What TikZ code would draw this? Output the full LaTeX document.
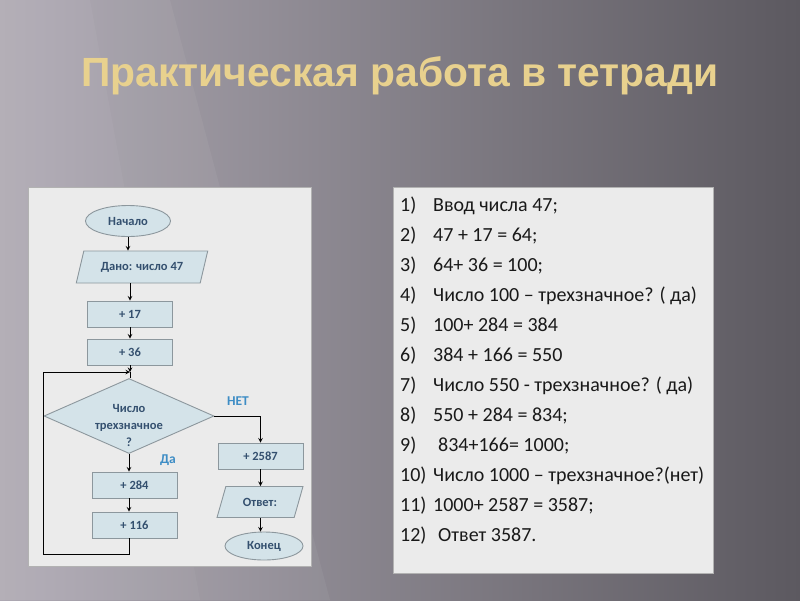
\documentclass[tikz,border=0pt]{standalone}
\usepackage{fontspec}
\setmainfont{Carlito}
\newfontfamily\titlefont{Liberation Sans}
\usetikzlibrary{shapes.geometric, arrows, positioning, calc}

\definecolor{titlegold}{HTML}{E8D18E}
\definecolor{panelgray}{HTML}{EBEBEB}
\definecolor{shapefill}{HTML}{D4E3E9}
\definecolor{shapeline}{HTML}{8C979D}
\definecolor{shapetext}{HTML}{34506F}
\definecolor{branchblue}{HTML}{3E8DC5}
\definecolor{bgleft}{HTML}{ADA8B2}
\definecolor{bgright}{HTML}{5C5960}

\tikzset{
  block/.style={draw=shapeline, fill=shapefill, line width=0.9pt, text=shapetext,
                font=\fontsize{12.5}{17}\selectfont\bfseries, inner sep=0pt, align=center},
  opbox/.style={block, rectangle, minimum width=85pt, minimum height=26pt},
  termbox/.style={block, ellipse},
  iobox/.style={block, trapezium, trapezium left angle=62, trapezium right angle=118,
                trapezium stretches=true},
  decision/.style={block, diamond, inner sep=-15pt, minimum width=170pt, minimum height=75pt},
  branchlabel/.style={text=branchblue, font=\fontsize{13.5}{15}\selectfont\bfseries},
  listtext/.style={anchor=base west, inner sep=0pt, text=black!90,
                   font=\fontsize{20}{24}\selectfont},
  flow/.style={line width=1pt, black}
}

\begin{document}
\begin{tikzpicture}[x=1pt, y=-1pt, >=stealth]
% background
\shade[left color=bgleft, right color=bgright] (0,0) rectangle (800,600);
\fill[white, opacity=0.05] (0,0) -- (170,0) -- (330,600) -- (0,600) -- cycle;
\fill[white, opacity=0.04] (0,0) -- (90,0) -- (200,600) -- (0,600) -- cycle;
\useasboundingbox (0,0) rectangle (800,600);

% title
\node[font=\titlefont\bfseries\fontsize{40.8}{46}\selectfont, text=titlegold] (title) at (400,76) {Практическая работа в тетради};

% panels
\fill[panelgray, draw=black!30, line width=0.6pt] (28,187) rectangle (311,566);
\fill[panelgray, draw=black!30, line width=0.6pt] (393,187) rectangle (713,573);

% flowchart
\node[termbox, minimum width=85pt, minimum height=31pt] (start) at (128,221) {Начало};
\node[iobox, minimum width=132pt, minimum height=32pt] (given) at (142,267) {Дано: число 47};
\node[opbox] (add17) at (130,314) {+ 17};
\node[opbox] (add36) at (130,352) {+ 36};
\coordinate (join) at (130,372);
\node[decision] (check) at (129,416) {\rule{0pt}{27pt}Число\\трехзначное\\?};
\node[opbox] (add284) at (134.5,485) {+ 284};
\node[opbox] (add116) at (134.5,525) {+ 116};
\node[opbox] (add2587) at (260.5,456) {+ 2587};
\node[iobox, minimum width=86pt, minimum height=31pt] (answer) at (260,502) {Ответ:};
\node[termbox, minimum width=78pt, minimum height=28pt] (finish) at (264,546) {Конец};

\node[branchlabel] (no) at (238,401) {НЕТ};
\node[branchlabel] (yes) at (168,460) {Да};

\draw[flow,->] (start.south) -- (start.south |- given.north);
\draw[flow,->] (given.south -| add17.north) -- (add17.north);
\draw[flow,->] (add17) -- (add36);
\draw[flow,->] (add36) -- (join);
\draw[flow] (join) -- (join |- check.north);
\draw[flow,->] (check.south) -- (check.south |- add284.north);
\draw[flow,->] (add284.south -| check.south) -- (add116.north -| check.south);
\draw[flow,->] (add116.south -| check.south) -- ++(0,16) -| (check.west) |- (join);
\draw[flow,->] (check.east) -| (add2587.north);
\draw[flow,->] (add2587.south) -- (add2587.south |- answer.north);
\draw[flow,->] (answer.south -| add2587.south) -- (finish.north -| add2587.south);

% worked steps
\foreach \txt/\dx [count=\i] in {{Ввод числа 47;}/0, {47 + 17 = 64;}/0, {64+ 36 = 100;}/0,
    {Число 100 -- трехзначное? ( да)}/0, {100+ 284 = 384}/0, {384 + 166 = 550}/0,
    {Число 550 - трехзначное? ( да)}/0, {550 + 284 = 834;}/0, {834+166= 1000;}/5,
    {Число 1000 -- трехзначное?(нет)}/0, {1000+ 2587 = 3587;}/0, {Ответ 3587.}/5}
{
  \node[listtext] (num\i) at (400, {211+30*(\i-1)}) {\i)};
  \node[listtext] (step\i) at ({433+\dx}, {211+30*(\i-1)}) {\txt};
}
\end{tikzpicture}
\end{document}
